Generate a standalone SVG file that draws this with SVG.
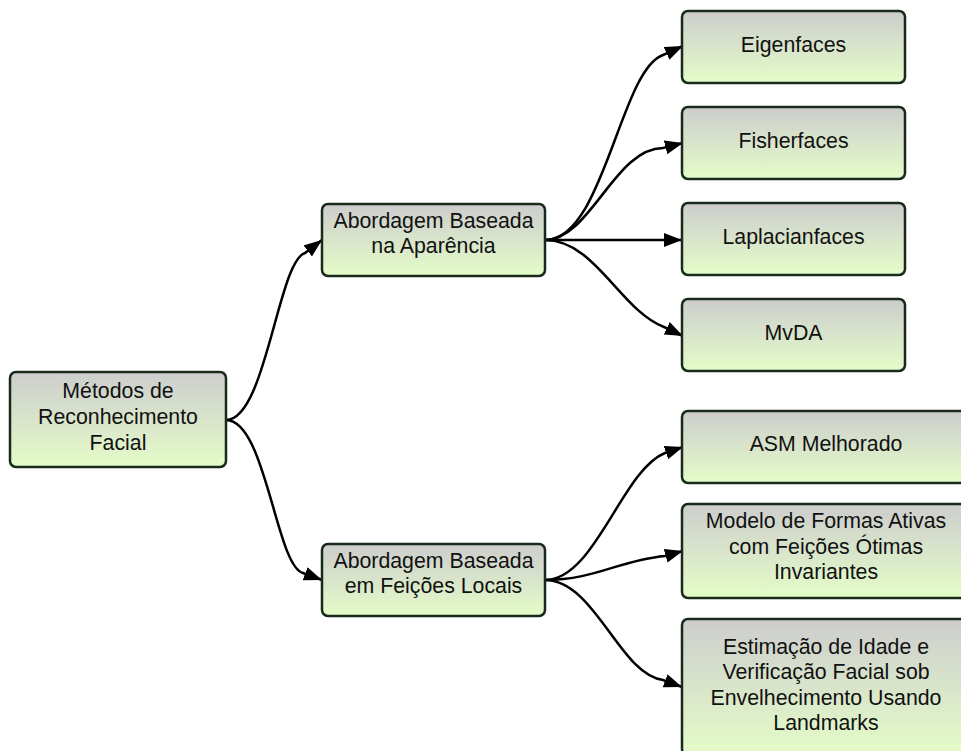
<svg xmlns="http://www.w3.org/2000/svg" width="961" height="751" viewBox="0 0 961 751">
<defs>
<linearGradient id="g" x1="0" y1="0" x2="0" y2="1">
<stop offset="0" stop-color="#cdcdcd"/>
<stop offset="1" stop-color="#e4fcc8"/>
</linearGradient>
<marker id="arr" markerUnits="userSpaceOnUse" markerWidth="20" markerHeight="16" refX="18" refY="7" orient="auto">
<path d="M0,0 L18,7 L0,14 z" fill="#000"/>
</marker>
<style>
.box{fill:url(#g);stroke:#1a2a1a;stroke-width:2.5}
.t{font-family:"Liberation Sans",Arial,sans-serif;font-size:21.3px;fill:#111;text-anchor:middle}
.c{fill:none;stroke:#000;stroke-width:2.5;marker-end:url(#arr)}
</style>
</defs>
<rect width="961" height="751" fill="#fff"/>
<g id="connectors">
<path class="c" d="M226,420 C266,420 278,261 305,253 L322,240"/>
<path class="c" d="M226,420 C266,420 276,566 303,573 L322,580"/>
<path class="c" d="M545,240 C604,240 620,70 663,55 L683,46"/>
<path class="c" d="M545,240 C590,240 615,148 663,148 L683,143"/>
<path class="c" d="M545,240 L682,240"/>
<path class="c" d="M545,240 C595,240 620,310 664,327 L683,336"/>
<path class="c" d="M545,580 C595,580 622,470 665,453 L683,447"/>
<path class="c" d="M545,580 C595,580 620,560 665,556 L683,551"/>
<path class="c" d="M545,580 C595,580 620,675 663,680 L682,687"/>
</g>
<g id="root">
<rect class="box" x="10" y="372" width="216" height="95" rx="6"/>
<text class="t" x="118" y="398">Métodos de</text>
<text class="t" x="118" y="424">Reconhecimento</text>
<text class="t" x="118" y="450">Facial</text>
</g>
<g id="aparencia">
<rect class="box" x="322" y="204" width="223" height="72" rx="6"/>
<text class="t" x="433.5" y="227.5">Abordagem Baseada</text>
<text class="t" x="433.5" y="253">na Aparência</text>
</g>
<g id="feicoes">
<rect class="box" x="322" y="544" width="223" height="72" rx="6"/>
<text class="t" x="433.5" y="567.5">Abordagem Baseada</text>
<text class="t" x="433.5" y="593">em Feições Locais</text>
</g>
<g id="eigenfaces">
<rect class="box" x="682" y="11" width="223" height="72" rx="6"/>
<text class="t" x="793.5" y="51.5">Eigenfaces</text>
</g>
<g id="fisherfaces">
<rect class="box" x="682" y="107" width="223" height="72" rx="6"/>
<text class="t" x="793.5" y="147.5">Fisherfaces</text>
</g>
<g id="laplacianfaces">
<rect class="box" x="682" y="203" width="223" height="72" rx="6"/>
<text class="t" x="793.5" y="243.5">Laplacianfaces</text>
</g>
<g id="mvda">
<rect class="box" x="682" y="299" width="223" height="72" rx="6"/>
<text class="t" x="793.5" y="339.5">MvDA</text>
</g>
<g id="asm">
<rect class="box" x="682" y="411" width="288" height="72" rx="6"/>
<text class="t" x="826" y="450.5">ASM Melhorado</text>
</g>
<g id="modelo">
<rect class="box" x="682" y="504" width="288" height="94" rx="6"/>
<text class="t" x="826" y="528">Modelo de Formas Ativas</text>
<text class="t" x="826" y="553.5">com Feições Ótimas</text>
<text class="t" x="826" y="579">Invariantes</text>
</g>
<g id="estimacao">
<rect class="box" x="682" y="619" width="288" height="136" rx="6"/>
<text class="t" x="826" y="653.5">Estimação de Idade e</text>
<text class="t" x="826" y="679">Verificação Facial sob</text>
<text class="t" x="826" y="704.5">Envelhecimento Usando</text>
<text class="t" x="826" y="730">Landmarks</text>
</g>
</svg>
